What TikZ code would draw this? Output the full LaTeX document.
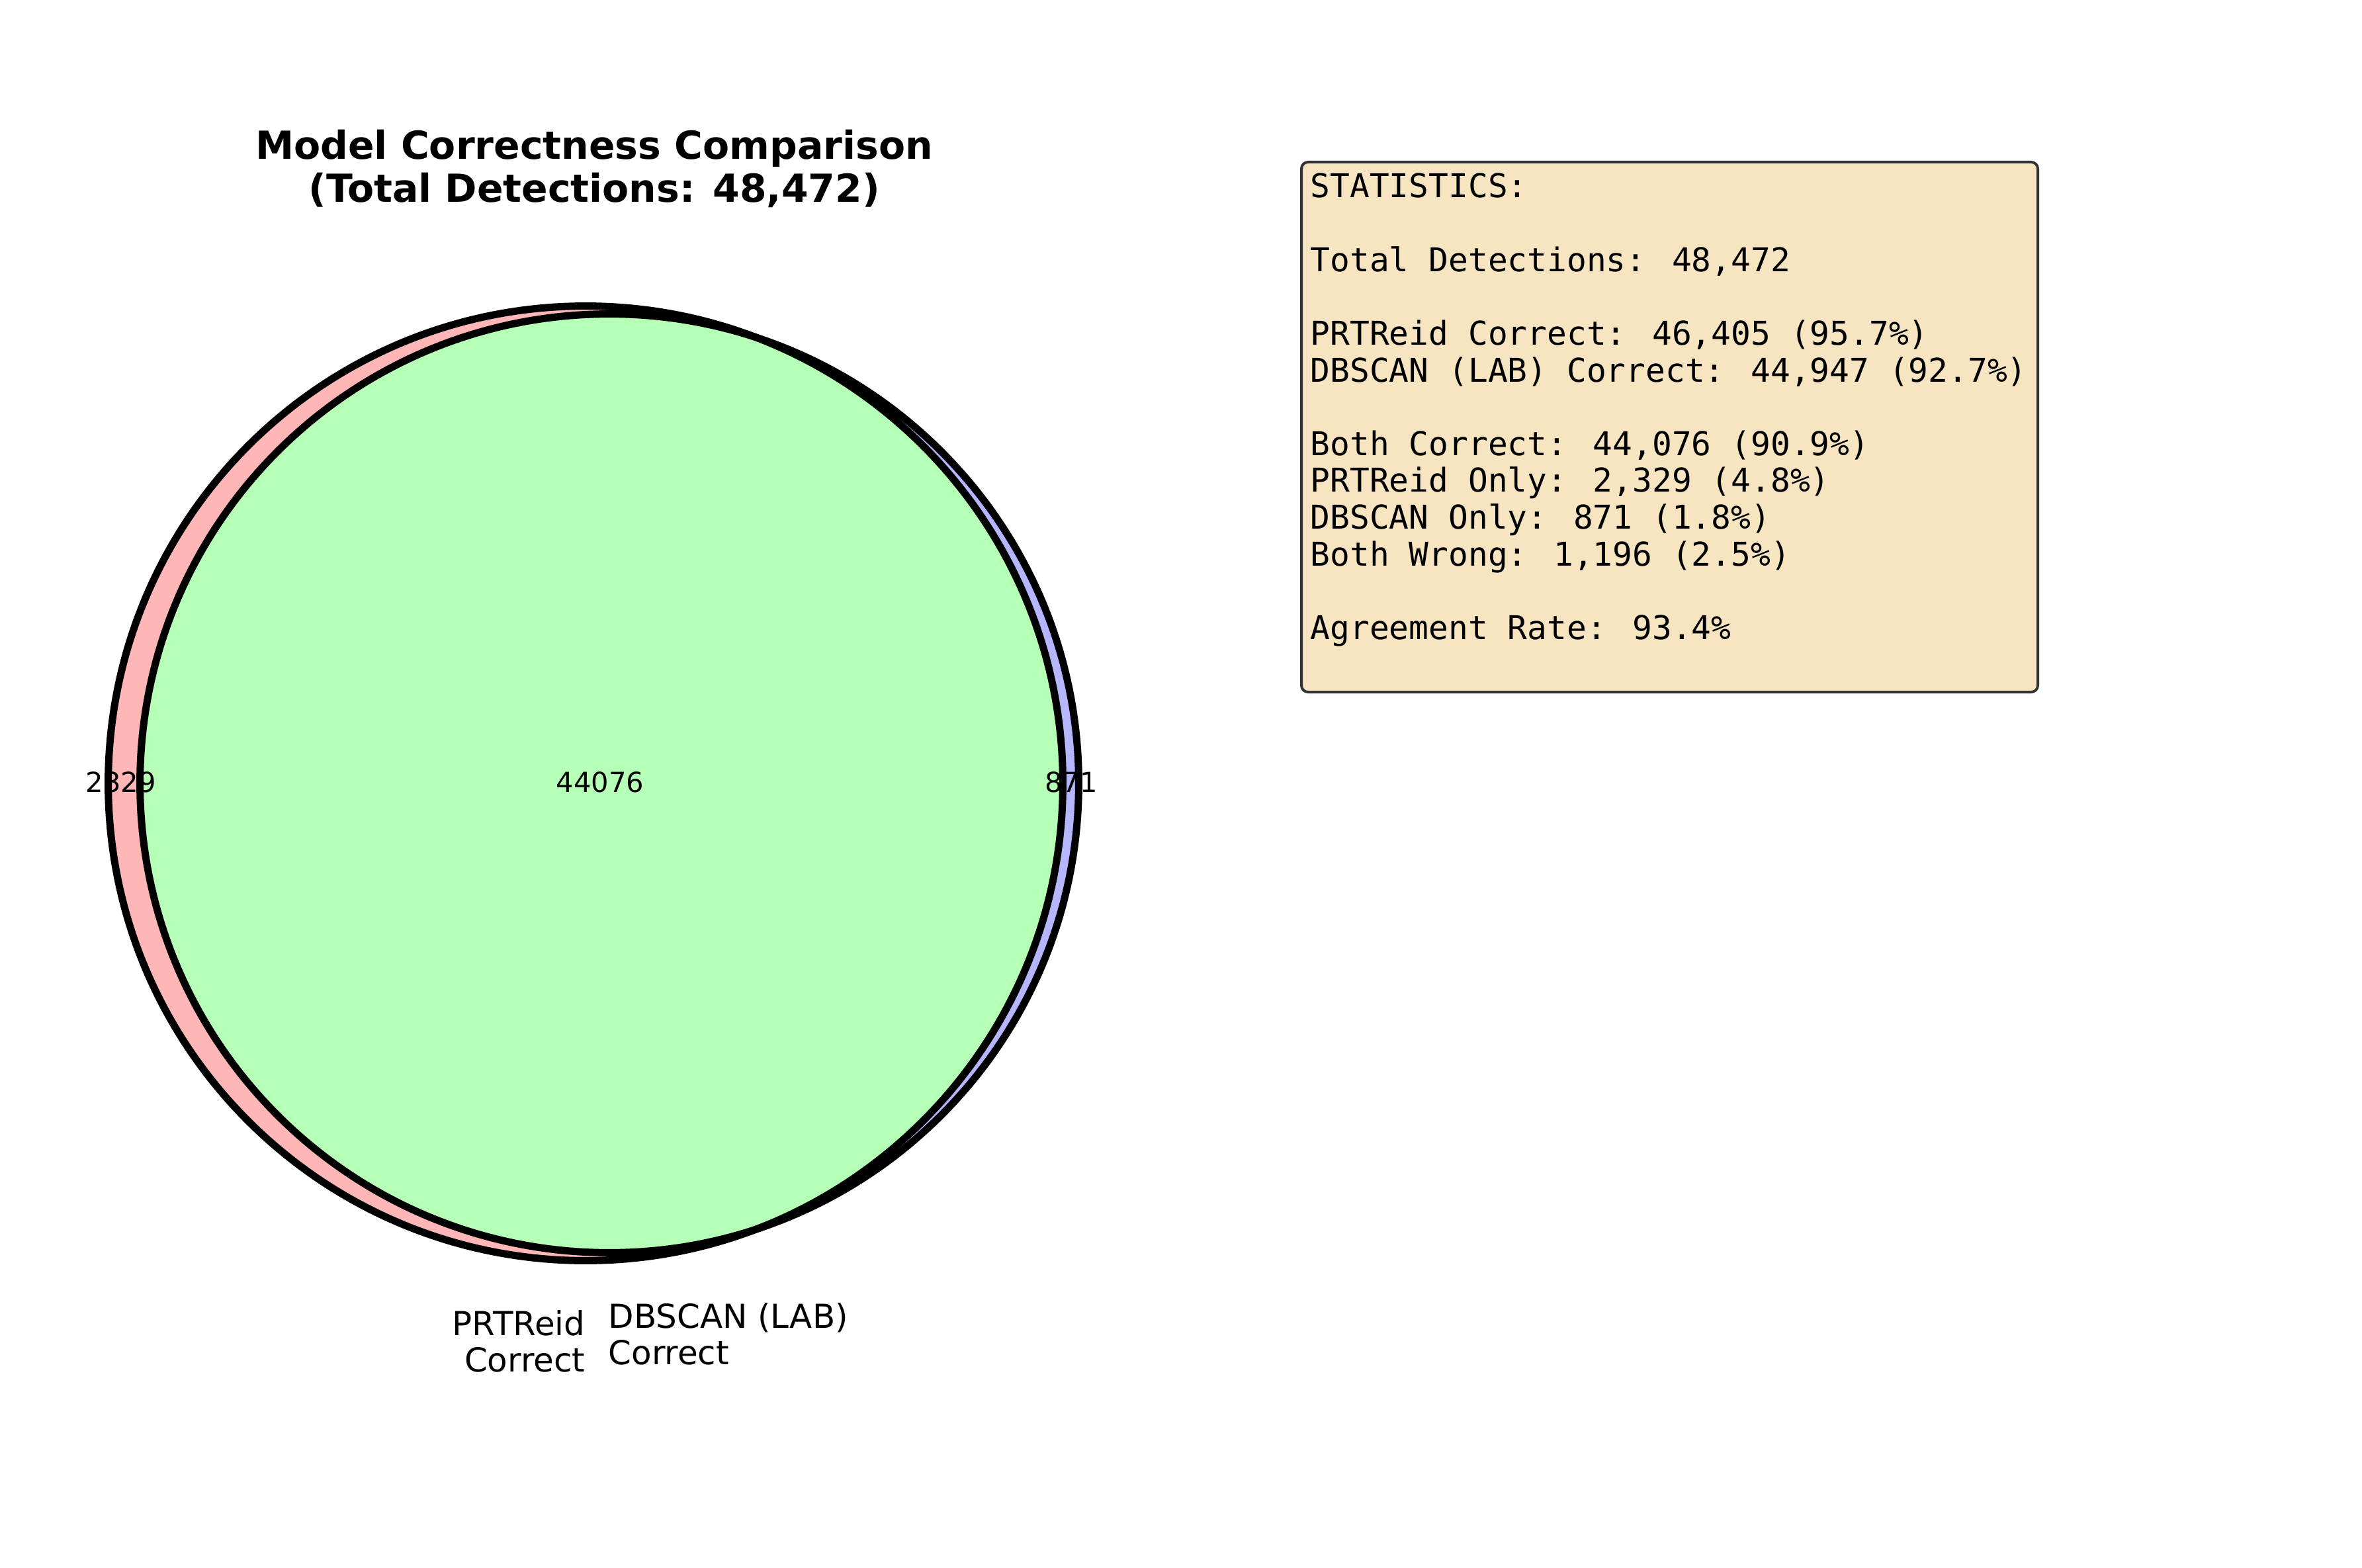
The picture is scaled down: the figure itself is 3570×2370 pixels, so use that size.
\documentclass[tikz,border=0pt]{standalone}
\usepackage{fontspec}
\setmainfont{DejaVu Sans}
\newfontfamily\monofont{DejaVu Sans Mono}
\usepackage{tikz}

\definecolor{prtpink}{HTML}{FFB6B6}
\definecolor{dbblue}{HTML}{B6B6FF}
\definecolor{bothgreen}{HTML}{B6FFB6}
\definecolor{boxwheat}{HTML}{F7E5C2}
\definecolor{boxedge}{HTML}{333333}

\begin{document}
\begin{tikzpicture}[x=0.01cm, y=-0.01cm,
    vennline/.style={black, line width=0.11cm},
    subsetlabel/.style={inner sep=0pt, anchor=base, font=\fontsize{11.85}{14}\selectfont},
    setlabel/.style={inner sep=0pt, font=\fontsize{14.2}{16}\selectfont},
    titleline/.style={inner sep=0pt, anchor=base, font=\fontsize{16.6}{19}\selectfont\bfseries},
    statline/.style={inner sep=0pt, anchor=base west, font=\monofont\fontsize{14.08}{16}\selectfont}]
        % 1. Page frame and title
        \useasboundingbox (0,0) rectangle (3570,2370);
        \node[titleline] (title1) at (898,241) {Model Correctness Comparison};
        \node[titleline] (title2) at (898,306) {(Total Detections: 48,472)};

        % 2. The two sets and their overlap
        \coordinate (prtreid) at (885,1184);
        \coordinate (dbscan) at (921,1184);
        \fill[prtpink] (prtreid) circle (7.21cm);
        \fill[dbblue] (dbscan) circle (7.09cm);
        \begin{scope}
            \clip (prtreid) circle (7.21cm);
            \fill[bothgreen] (dbscan) circle (7.09cm);
        \end{scope}
        \draw[vennline] (prtreid) circle (7.21cm);
        \draw[vennline] (dbscan) circle (7.09cm);

        % 3. Subset counts
        \node[subsetlabel] (onlyprt) at (183,1197) {2329};
        \node[subsetlabel] (both) at (907,1197) {44076};
        \node[subsetlabel] (onlydb) at (1619,1197) {871};

        % 4. Set names below the circles
        \node[setlabel, anchor=base east] (prtname1) at (885,2018) {PRTReid};
        \node[setlabel, anchor=base east] (prtname2) at (885,2073) {Correct};
        \node[setlabel, anchor=base west] (dbname1) at (919,2007) {DBSCAN (LAB)};
        \node[setlabel, anchor=base west] (dbname2) at (919,2062) {Correct};

        % 5. Statistics box
        \draw[boxedge, fill=boxwheat, line width=0.04cm, rounded corners=0.1cm] (1967,245) rectangle (3080,1046);
        \foreach \i/\t in {0/{STATISTICS:},
                           2/{Total Detections: 48,472},
                           4/{PRTReid Correct: 46,405 (95.7\%)},
                           5/{DBSCAN (LAB) Correct: 44,947 (92.7\%)},
                           7/{Both Correct: 44,076 (90.9\%)},
                           8/{PRTReid Only: 2,329 (4.8\%)},
                           9/{DBSCAN Only: 871 (1.8\%)},
                           10/{Both Wrong: 1,196 (2.5\%)},
                           12/{Agreement Rate: 93.4\%}}
            \node[statline] (stat\i) at (1980,299+55.6*\i) {\t};

    \end{tikzpicture}
\end{document}
